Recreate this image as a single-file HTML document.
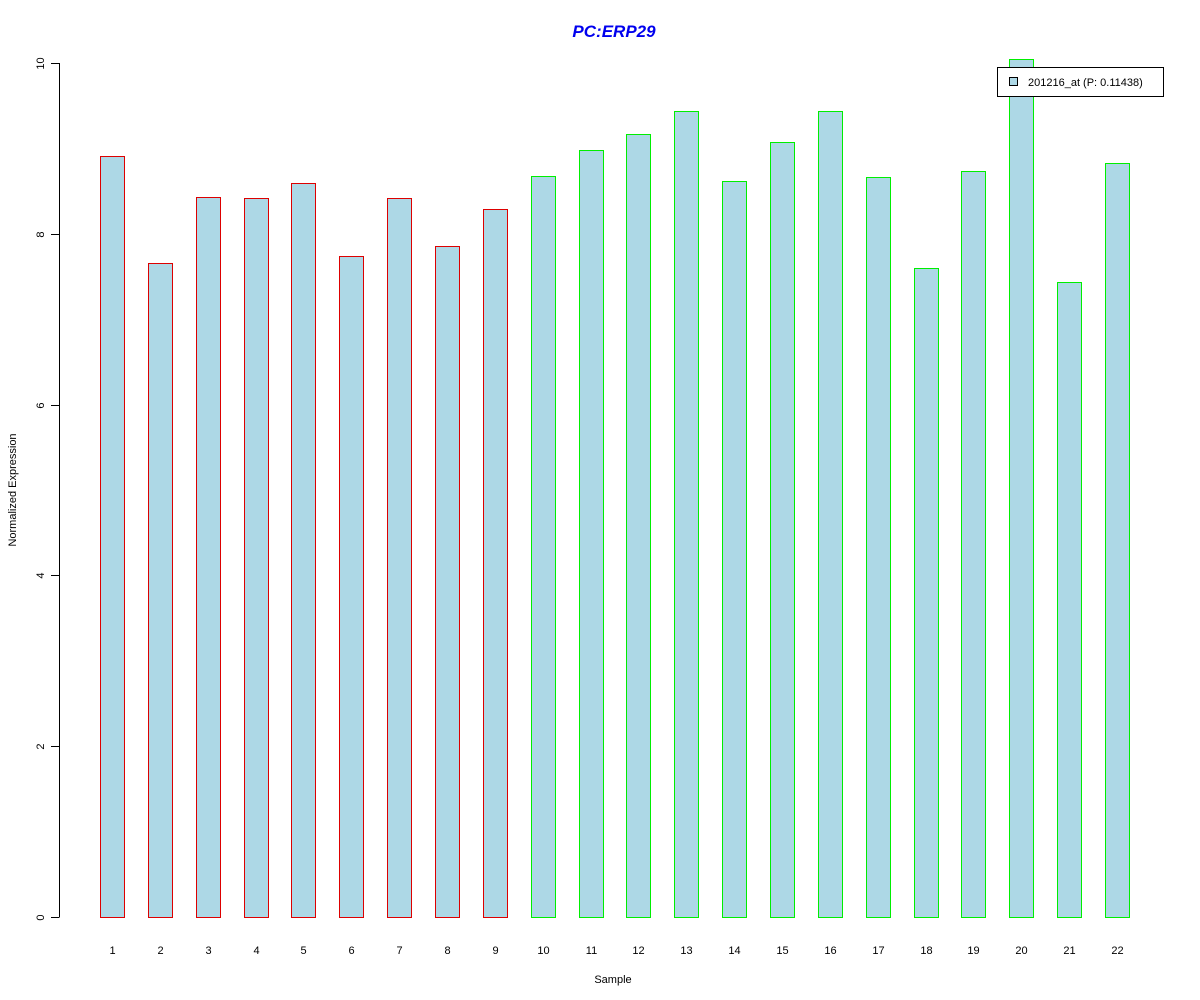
<!DOCTYPE html>
<html><head><meta charset="utf-8"><style>
html,body{margin:0;padding:0;background:#fff;}
svg{display:block;font-family:"Liberation Sans",Arial,sans-serif;}
</style></head><body>
<svg id="chart" width="1200" height="1000">
<text x="614" y="37" text-anchor="middle" font-size="17" font-weight="bold" font-style="italic" fill="#0000ee">PC:ERP29</text>
<text transform="translate(16,490) rotate(-90)" text-anchor="middle" font-size="11">Normalized Expression</text>
<text x="613" y="983" text-anchor="middle" font-size="11">Sample</text>
<g id="yaxis"></g>
<g id="bars"></g>
<g id="xlabels"></g>
<g>
<rect x="997.5" y="67.5" width="166" height="29" fill="#fff" stroke="#000"/>
<rect x="1009.5" y="77.5" width="8" height="8" fill="#add8e6" stroke="#000"/>
<text x="1028" y="86" font-size="11">201216_at (P: 0.11438)</text>
</g>
</svg>
<script>
const categories = ["1","2","3","4","5","6","7","8","9","10","11","12","13","14","15","16","17","18","19","20","21","22"];
const values = [8.91,7.66,8.43,8.42,8.59,7.74,8.42,7.86,8.29,8.68,8.98,9.17,9.44,8.62,9.07,9.44,8.67,7.60,8.74,10.05,7.44,8.83];
const groups = ["red","red","red","red","red","red","red","red","red","green","green","green","green","green","green","green","green","green","green","green","green","green"];
const yTicks = [0,2,4,6,8,10];
const NS="http://www.w3.org/2000/svg";
const y0=917, y10=63;
function yScale(v){return y0-(y0-y10)*v/10;}
function xScale(i){return 100+i*47.86;}
const barW=24;
function mk(tag,attrs,parent){const e=document.createElementNS(NS,tag);for(const k in attrs)e.setAttribute(k,attrs[k]);parent.appendChild(e);return e;}
const ya=document.getElementById('yaxis');
const ax=mk('line',{x1:59.5,x2:59.5,y1:yScale(0),y2:yScale(10),stroke:'#000'},ya);


yTicks.forEach(t=>{
  const y=Math.round(yScale(t))+0.5;
  const l=mk('line',{x1:51,x2:59.5,y1:y,y2:y,stroke:'#000'},ya);
  
  
  const tx=mk('text',{transform:`translate(44,${y}) rotate(-90)`,'text-anchor':'middle','font-size':'11'},ya);
  tx.textContent=t;
  
  
});
const bg=document.getElementById('bars'), xl=document.getElementById('xlabels');
values.forEach((v,i)=>{
  const x=Math.round(xScale(i))+0.5, yt=Math.round(yScale(v))+0.5;
  const r=mk('rect',{x:x,y:yt,width:barW,height:Math.round(yScale(0))-yt+0.5,fill:'#add8e6',stroke:groups[i]==='red'?'#dd0000':'#00ee00'},bg);
  
  
  const t=mk('text',{x:x+barW/2,y:954,'text-anchor':'middle','font-size':'11'},xl);
  t.textContent=categories[i];
  
  
});
</script>
</body></html>
